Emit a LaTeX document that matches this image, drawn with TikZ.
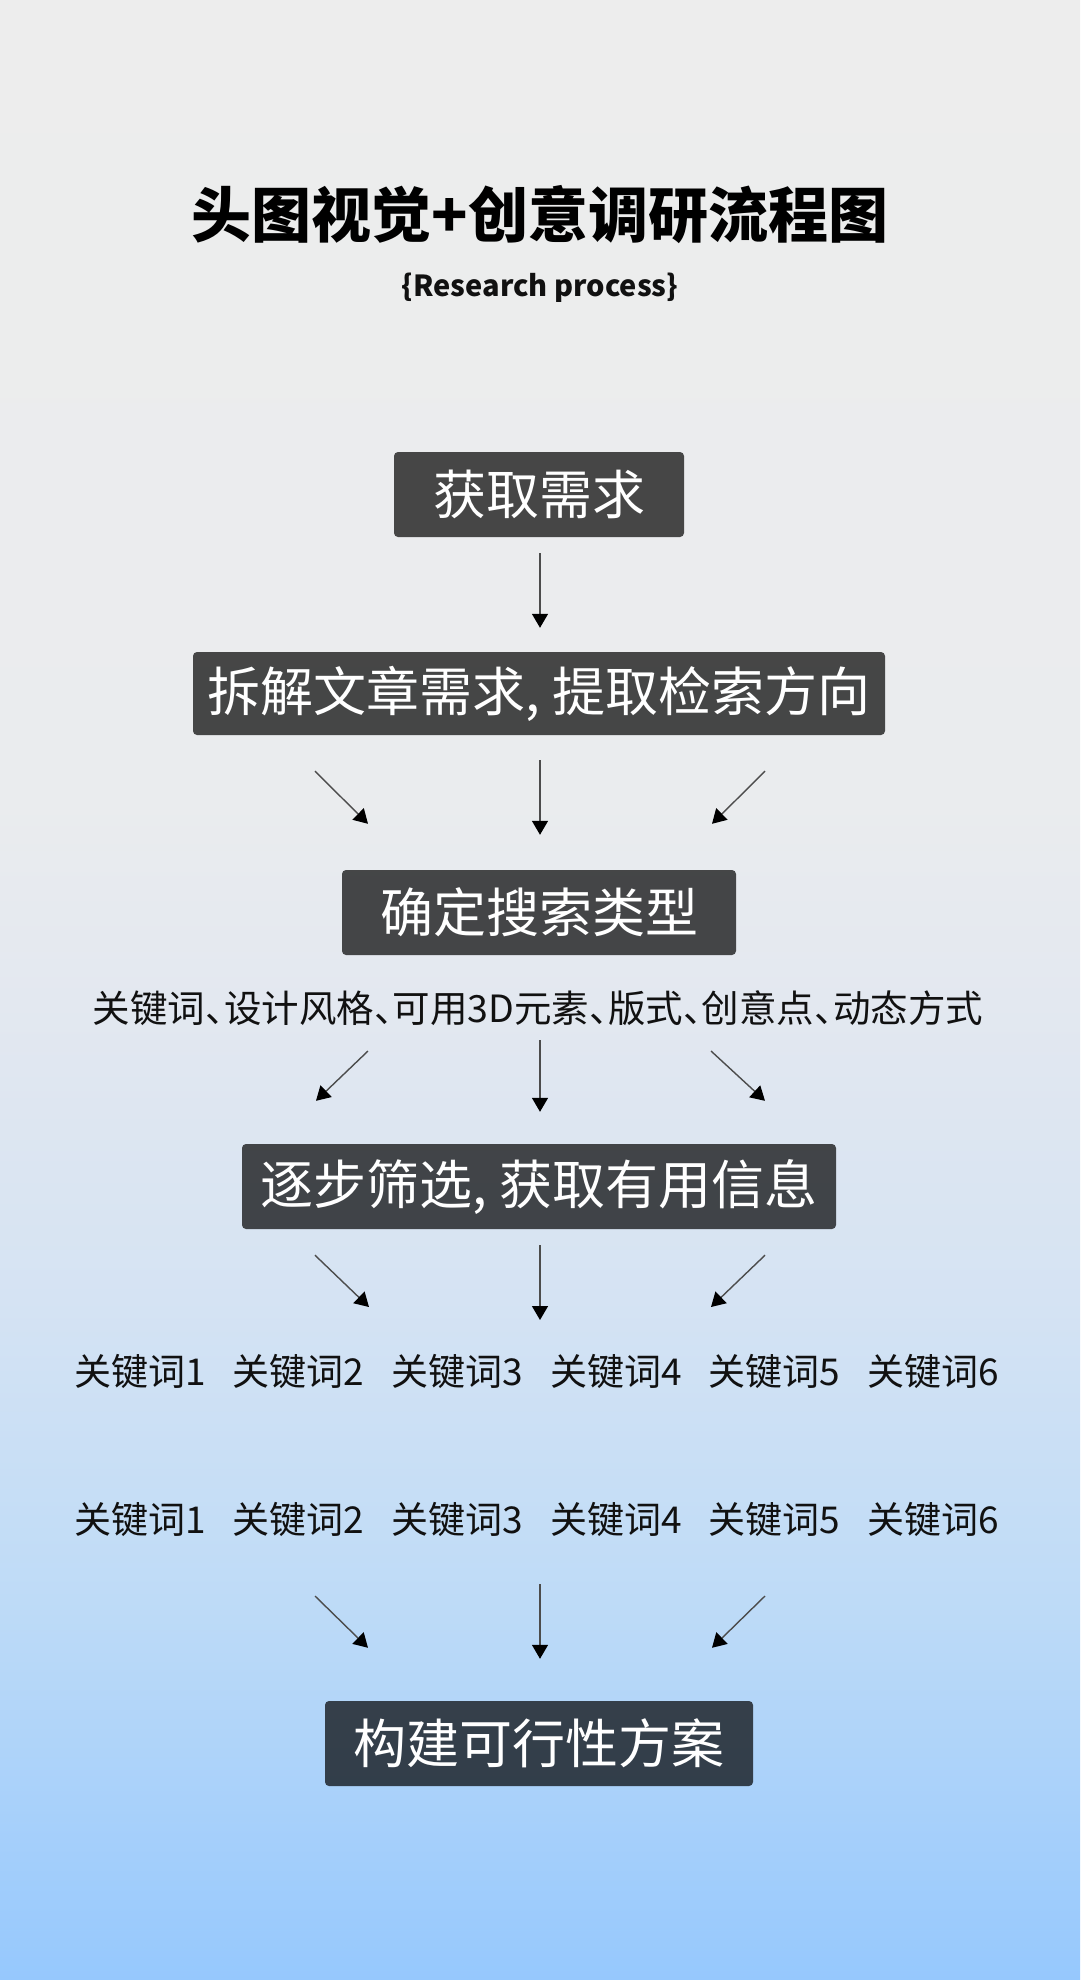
\documentclass[tikz,border=0pt]{standalone}
\usepackage{fontspec}
\usepackage{xcolor}
\usepackage{tikz}
\usetikzlibrary{arrows.meta,positioning,calc}

\newfontfamily\cjk{Noto Sans CJK SC}
\newfontfamily\cjkhalt[RawFeature=+halt]{Noto Sans CJK SC}

\definecolor{bgtop}{RGB}{237,237,237}
\definecolor{bgupper}{RGB}{234,236,238}
\definecolor{bgmid}{RGB}{227,232,240}
\definecolor{bglow}{RGB}{213,227,243}
\definecolor{bglower}{RGB}{190,219,247}
\definecolor{bgbot}{RGB}{150,200,253}
\definecolor{inktext}{RGB}{17,17,17}

% background fade, bottom (25bp) to top (75bp)
\pgfdeclareverticalshading{bgfade}{100bp}{color(0bp)=(bgbot); color(25bp)=(bgbot); color(34.6bp)=(bglower);
  color(42.2bp)=(bglow); color(49.7bp)=(bgmid); color(54.8bp)=(bgupper); color(75bp)=(bgtop); color(100bp)=(bgtop)}

\begin{document}
\begin{tikzpicture}[x=1pt, y=-1pt,
  stepbox/.style={rectangle, rounded corners=4pt, fill=black, fill opacity=0.7, text opacity=1,
    text=white, minimum height=85pt, inner sep=0pt, font=\cjk\fontsize{53}{60}\selectfont},
  plain/.style={text=inktext, inner sep=0pt, font=\cjk\fontsize{37}{44}\selectfont},
  arrow/.style={draw=black!70, line width=1.4pt, -{Triangle[length=14pt,width=16pt,black]}}]

  \shade[shading=bgfade] (0,0) rectangle (1080,1980);

  % title
  \node (title) [font=\cjk\bfseries\fontsize{60}{70}\selectfont, text=black] at (540,215) {头图视觉+创意调研流程图};
  \node (subtitle) [font=\cjk\bfseries\fontsize{29}{34}\selectfont, text=inktext] at (540,288) {\{Research process\}};

  % steps
  \node (need) [stepbox, minimum width=290pt] at (539,494.5) {获取需求};
  \node (split) [stepbox, minimum width=692pt, minimum height=83pt] at (539,693.5) {拆解文章需求, 提取检索方向};
  \node (type) [stepbox, minimum width=394pt] at (539,912.5) {确定搜索类型};
  \node (kinds) [plain, font=\cjkhalt\fontsize{37.5}{44}\selectfont] at (538,1008) {关键词、设计风格、可用3D元素、版式、创意点、动态方式};
  \node (filter) [stepbox, minimum width=594pt] at (539,1186.5) {逐步筛选, 获取有用信息};
  \node (plan) [stepbox, minimum width=428pt] at (539,1743.5) {构建可行性方案};

  % keyword rows
  \coordinate (rowa) at (539,1371);
  \coordinate (rowb) at (539,1519);
  \foreach \i in {1,...,6} {
    \node (kwa\i) [plain] at ({140+(\i-1)*158.6},1371) {关键词\i};
    \node (kwb\i) [plain] at ({140+(\i-1)*158.6},1519) {关键词\i};
  }

  \draw [arrow] ([shift={(1,16)}]need.south) -- ([shift={(1,-24)}]split.north);

  \draw [arrow] ([shift={(-224,36)}]split.south) -- ([shift={(-171,-46)}]type.north);
  \draw [arrow] ([shift={(1,25)}]split.south) -- ([shift={(1,-35)}]type.north);
  \draw [arrow] ([shift={(226,36)}]split.south) -- ([shift={(173,-46)}]type.north);

  \draw [arrow] ([shift={(-170,43)}]kinds.center) -- ([shift={(-223,-43)}]filter.north);
  \draw [arrow] ([shift={(2,32)}]kinds.center) -- ([shift={(1,-32)}]filter.north);
  \draw [arrow] ([shift={(173,43)}]kinds.center) -- ([shift={(226,-43)}]filter.north);

  \draw [arrow] ([shift={(-224,26)}]filter.south) -- ([shift={(-170,-64)}]rowa);
  \draw [arrow] ([shift={(1,16)}]filter.south) -- ([shift={(1,-51)}]rowa);
  \draw [arrow] ([shift={(226,26)}]filter.south) -- ([shift={(172,-64)}]rowa);

  \draw [arrow] ([shift={(-224,77)}]rowb) -- ([shift={(-171,-53)}]plan.north);
  \draw [arrow] ([shift={(1,65)}]rowb) -- ([shift={(1,-42)}]plan.north);
  \draw [arrow] ([shift={(226,77)}]rowb) -- ([shift={(173,-53)}]plan.north);
\end{tikzpicture}
\end{document}
